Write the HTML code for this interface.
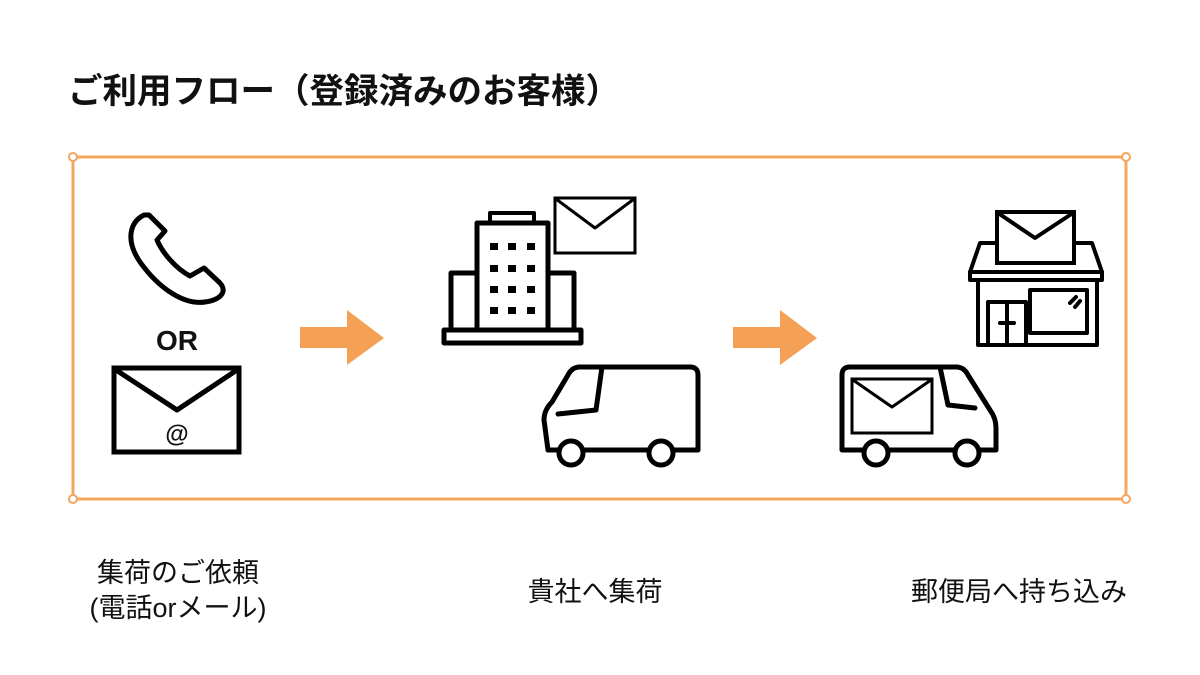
<!DOCTYPE html>
<html><head><meta charset="utf-8"><style>
html,body{margin:0;padding:0;background:#fff;width:1200px;height:675px;overflow:hidden}
svg{display:block}
text{font-family:"Liberation Sans","Noto Sans CJK JP",sans-serif;fill:#111}
</style></head><body>
<svg width="1200" height="675" viewBox="0 0 1200 675">
<text x="68" y="103" font-size="34.5" font-weight="bold">ご利用フロー（登録済みのお客様）</text>
<rect x="73" y="157" width="1053" height="342" fill="none" stroke="#f3a65e" stroke-width="3"/>
<g fill="#fff" stroke="#f3a65e" stroke-width="2">
<circle cx="73" cy="157" r="4"/><circle cx="1126" cy="157" r="4"/><circle cx="73" cy="499" r="4"/><circle cx="1126" cy="499" r="4"/></g>
<g fill="none" stroke="#000" stroke-width="5" stroke-linejoin="round" stroke-linecap="round">
<path d="M144 215 C130 222 125 240 140 262 C160 290 185 305 205 302 C220 300 228 292 220 283 L204 268 L190 276 C175 268 162 252 157 240 L165 231 L149 215 Z"/>
<rect x="114" y="368" width="125" height="84" stroke-width="5" stroke-linejoin="miter"/>
<path d="M116 370 L177 410 L237 370"/>
<rect x="490" y="213" width="44" height="10" stroke-width="4"/>
<rect x="477" y="223" width="71" height="107"/>
<rect x="451" y="273" width="26" height="57"/>
<rect x="548" y="273" width="26" height="57"/>
<rect x="444" y="330" width="137" height="13"/>
<rect x="555" y="198" width="80" height="55" stroke-width="3" stroke-linejoin="miter"/>
<path d="M556 199 L595 228 L634 199" stroke-width="3"/>
<path d="M548 450 L544 420 Q544 410 552 402 L568 375 Q572 367 580 367 L690 367 Q698 367 698 375 L698 450 Z"/>
<path d="M602 367 L596 410 L558 414"/>
<rect x="997" y="212" width="77" height="51" stroke-width="4" stroke-linejoin="miter"/>
<path d="M998 213 L1035 238 L1073 213" stroke-width="4"/>
<path d="M997 243 L980 243 L970 272 L1102 272 L1092 243 L1074 243" stroke-width="4"/>
<rect x="970" y="272" width="132" height="8" stroke-width="4"/>
<path d="M978 280 L978 345 L1097 345 L1097 280" stroke-width="4"/>
<rect x="988" y="302" width="38" height="43" stroke-width="4"/>
<path d="M1007 302 L1007 345 M1000 323 L1014 323" stroke-width="4"/>
<rect x="1030" y="290" width="57" height="43" stroke-width="4"/>
<path d="M1070 303 L1076 297 M1075 307 L1080 301" stroke-width="4"/>
<path d="M842 450 L842 375 Q842 367 850 367 L956 367 Q964 367 968 375 L990 410 Q996 418 996 428 L996 450 Z"/>
<path d="M940 367 L948 405 L975 408"/>
<rect x="852" y="379" width="80" height="54" stroke-width="3" stroke-linejoin="miter"/>
<path d="M853 380 L892 407 L931 380" stroke-width="3"/>
</g>
<g fill="#000">
<rect x="490" y="243" width="8" height="7"/><rect x="508" y="243" width="8" height="7"/><rect x="527" y="243" width="8" height="7"/>
<rect x="490" y="265" width="8" height="7"/><rect x="508" y="265" width="8" height="7"/><rect x="527" y="265" width="8" height="7"/>
<rect x="490" y="286" width="8" height="7"/><rect x="508" y="286" width="8" height="7"/><rect x="527" y="286" width="8" height="7"/>
<rect x="490" y="307" width="8" height="7"/><rect x="508" y="307" width="8" height="7"/><rect x="527" y="307" width="8" height="7"/>
</g>
<g fill="#fff" stroke="#000" stroke-width="5">
<circle cx="571" cy="453" r="12"/><circle cx="661" cy="453" r="12"/>
<circle cx="876" cy="453" r="12"/><circle cx="967" cy="453" r="12"/>
</g>
<text x="177" y="350" font-size="28" font-weight="bold" text-anchor="middle">OR</text>
<text x="177" y="442" font-size="24" font-weight="bold" text-anchor="middle">@</text>
<path d="M300 327 L347 327 L347 310 L384 338 L347 365 L347 348 L300 348 Z" fill="#f5a155"/>
<path d="M733 327 L780 327 L780 310 L817 338 L780 365 L780 348 L733 348 Z" fill="#f5a155"/>
<g font-size="27" text-anchor="middle">
<text x="178" y="582">集荷のご依頼</text>
<text x="178" y="617">(電話orメール)</text>
<text x="595" y="601">貴社へ集荷</text>
<text x="1019" y="601">郵便局へ持ち込み</text>
</g>
</svg>
</body></html>
